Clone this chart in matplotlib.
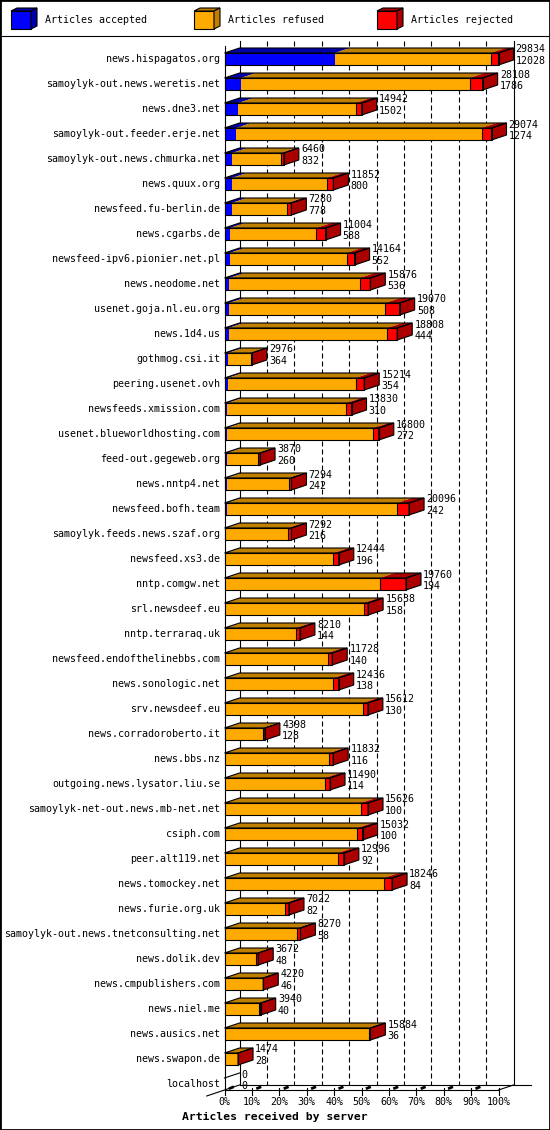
import matplotlib
matplotlib.use("Agg")
import matplotlib.pyplot as plt
from matplotlib.patches import Polygon, Rectangle
from matplotlib.lines import Line2D
import numpy as np

# data (rejected estimated from the red segment widths)
hosts = ["news.hispagatos.org", "samoylyk-out.news.weretis.net", "news.dne3.net",
         "samoylyk-out.feeder.erje.net", "samoylyk-out.news.chmurka.net", "news.quux.org",
         "newsfeed.fu-berlin.de", "news.cgarbs.de", "newsfeed-ipv6.pionier.net.pl",
         "news.neodome.net", "usenet.goja.nl.eu.org", "news.1d4.us", "gothmog.csi.it",
         "peering.usenet.ovh", "newsfeeds.xmission.com", "usenet.blueworldhosting.com",
         "feed-out.gegeweb.org", "news.nntp4.net", "newsfeed.bofh.team",
         "samoylyk.feeds.news.szaf.org", "newsfeed.xs3.de", "nntp.comgw.net",
         "srl.newsdeef.eu", "nntp.terraraq.uk", "newsfeed.endofthelinebbs.com",
         "news.sonologic.net", "srv.newsdeef.eu", "news.corradoroberto.it", "news.bbs.nz",
         "outgoing.news.lysator.liu.se", "samoylyk-net-out.news.mb-net.net", "csiph.com",
         "peer.alt119.net", "news.tomockey.net", "news.furie.org.uk",
         "samoylyk-out.news.tnetconsulting.net", "news.dolik.dev", "news.cmpublishers.com",
         "news.niel.me", "news.ausics.net", "news.swapon.de", "localhost"]
totals = [29834, 28108, 14942, 29074, 6460, 11852, 7280, 11004, 14164, 15876, 19070, 18808,
          2976, 15214, 13830, 16800, 3870, 7294, 20096, 7292, 12444, 19760, 15638, 8210,
          11728, 12436, 15612, 4398, 11832, 11490, 15626, 15032, 12996, 18246, 7022, 8270,
          3672, 4220, 3940, 15884, 1474, 0]
accepted = [12028, 1786, 1502, 1274, 832, 800, 778, 588, 552, 536, 508, 444, 364, 354, 310,
            272, 260, 242, 242, 216, 196, 194, 158, 144, 140, 138, 130, 128, 116, 114, 100,
            100, 92, 84, 82, 58, 48, 46, 40, 36, 28, 0]
rejected = [870, 1410, 650, 1070, 300, 690, 430, 1000, 870, 1160, 1560, 1085, 60, 940, 580,
            580, 250, 250, 1300, 325, 580, 2860, 500, 470, 500, 580, 580, 200, 430, 580, 800,
            580, 650, 900, 470, 360, 290, 50, 210, 180, 30, 0]
legend_labels = ["Articles accepted", "Articles refused", "Articles rejected"]
tick_labels = ["0%", "10%", "20%", "30%", "40%", "50%", "60%", "70%", "80%", "90%", "100%"]

totals = np.array(totals)
accepted = np.array(accepted)
rejected = np.array(rejected)
refused = totals - accepted - rejected

front = ["#0000FF", "#FFAA00", "#FF0000"]
shade = ["#0000AA", "#BF8000", "#AA0000"]

font = "DejaVu Sans Mono"
fs = 7.2
LW = 0.8

fig = plt.figure(figsize=(5.5, 11.3), dpi=100)
W, H = 550.0, 1130.0

# plot area: 0..100% across 274 px, rows 25 px apart
ax = fig.add_axes([224.5 / W, 40 / H, 274 / W, 1049 / H])
n = len(hosts)
ax.set_xlim(0, 100)
ax.set_ylim(n - 1 + 0.24, -0.72)
ax.axis("off")

DX = 15 / 2.74   # depth in % units
DY = 0.2         # depth in rows
HH = 0.24        # half bar height
ybot = n - 1 + HH
ytop = -0.72

# back plane grid
for p in range(10, 100, 10):
    ax.plot([p + DX, p + DX], [ytop, ybot - DY], color="black", lw=LW,
            linestyle=(0, (4.5, 2.7)), zorder=1, clip_on=False)
for p in (0, 100):
    ax.plot([p + DX, p + DX], [ytop, ybot - DY], color="black", lw=LW, zorder=1, clip_on=False)
ax.plot([0, 0], [ytop + DY, ybot], color="black", lw=LW, zorder=1, clip_on=False)
ax.plot([DX, 112], [ybot - DY, ybot - DY], color="black", lw=LW, zorder=1, clip_on=False)
ax.plot([0, 100], [ybot, ybot], color="black", lw=LW, zorder=1, clip_on=False)
ax.plot([-6.5, DX], [ybot + 0.24, ybot - DY], color="black", lw=LW, zorder=1, clip_on=False)
ax.plot([100, 100 + DX], [ybot, ybot - DY], color="black", lw=LW, zorder=1, clip_on=False)

for k, p in enumerate(range(0, 101, 10)):
    ax.plot([p, p], [ybot - 0.08, ybot + 0.2], color="black", lw=LW, clip_on=False)
    if p < 100:
        ax.plot([p + 1.6, p + 3.4], [ybot - 0.05, ybot - 0.13], color="black", lw=2.0,
                solid_capstyle="butt", clip_on=False)
    ax.text(p, ybot + 0.48, tick_labels[k], ha="center", va="center", fontsize=fs,
            family=font)

scale = 100.0 / totals.max()
for i in range(n):
    segs = [accepted[i] * scale, refused[i] * scale, rejected[i] * scale]
    y0, y1 = i - HH, i + HH
    x0 = 0.0
    last = None
    for s, w in enumerate(segs):
        if w <= 0:
            continue
        x1 = x0 + w
        ax.add_patch(Rectangle((x0, y0), w, 2 * HH, facecolor=front[s], edgecolor="none",
                               zorder=3, clip_on=False))
        ax.add_patch(Polygon([(x0, y0), (x1, y0), (x1 + DX, y0 - DY), (x0 + DX, y0 - DY)],
                             closed=True, facecolor=shade[s], edgecolor="none", zorder=3,
                             clip_on=False))
        if s == 2:
            ax.plot([x0, x0], [y0, y1], color="black", lw=LW, zorder=4, clip_on=False)
        x0 = x1
        last = s
    end = x0
    if last is not None:
        ax.add_patch(Polygon([(end, y0), (end + DX, y0 - DY), (end + DX, y1 - DY), (end, y1)],
                             closed=True, facecolor=shade[last], edgecolor="black", lw=LW,
                             zorder=4, clip_on=False))
        ax.add_patch(Rectangle((0, y0), end, 2 * HH, facecolor="none", edgecolor="black",
                               lw=LW, zorder=4, clip_on=False))
        ax.add_patch(Polygon([(0, y0), (end, y0), (end + DX, y0 - DY), (DX, y0 - DY)],
                             closed=True, facecolor="none", edgecolor="black", lw=LW,
                             zorder=4, clip_on=False))
    else:
        ax.plot([0, DX], [y0, y0 - DY], color="black", lw=LW, zorder=4, clip_on=False)
    ax.text(-1.46, i, hosts[i], ha="right", va="center", fontsize=fs, family=font)
    ax.text(end + DX + 0.8, i - 0.38, str(totals[i]), ha="left", va="center",
            fontsize=fs, family=font, zorder=5)
    ax.text(end + DX + 0.8, i + 0.08, str(accepted[i]), ha="left", va="center",
            fontsize=fs, family=font, zorder=5)

# legend strip with little cubes
lax = fig.add_axes([0, 1 - 36 / H, 1, 36 / H])
lax.set_xlim(0, W)
lax.set_ylim(36, 0)
lax.axis("off")
for k, (cx, tx) in enumerate([(11, 45), (194, 228), (377, 411)]):
    lax.add_patch(Rectangle((cx, 11), 20, 18, facecolor=front[k], edgecolor="black", lw=LW))
    lax.add_patch(Polygon([(cx, 11), (cx + 20, 11), (cx + 26, 8), (cx + 6, 8)], closed=True,
                          facecolor=shade[k], edgecolor="black", lw=LW))
    lax.add_patch(Polygon([(cx + 20, 11), (cx + 26, 8), (cx + 26, 26), (cx + 20, 29)],
                          closed=True, facecolor=shade[k], edgecolor="black", lw=LW))
    lax.text(tx, 20, legend_labels[k], ha="left", va="center", fontsize=fs, family=font)
lax.plot([0, W], [36, 36], color="black", lw=LW, clip_on=False)

fig.text(275 / W, 1 - 1117 / H, "Articles received by server", ha="center", va="center",
         fontsize=8.2, fontweight="bold", family=font)
fig.patches.append(Rectangle((0, 0), 1, 1, transform=fig.transFigure, fill=False,
                             edgecolor="black", lw=2))

fig.savefig("out.png", dpi=100)
